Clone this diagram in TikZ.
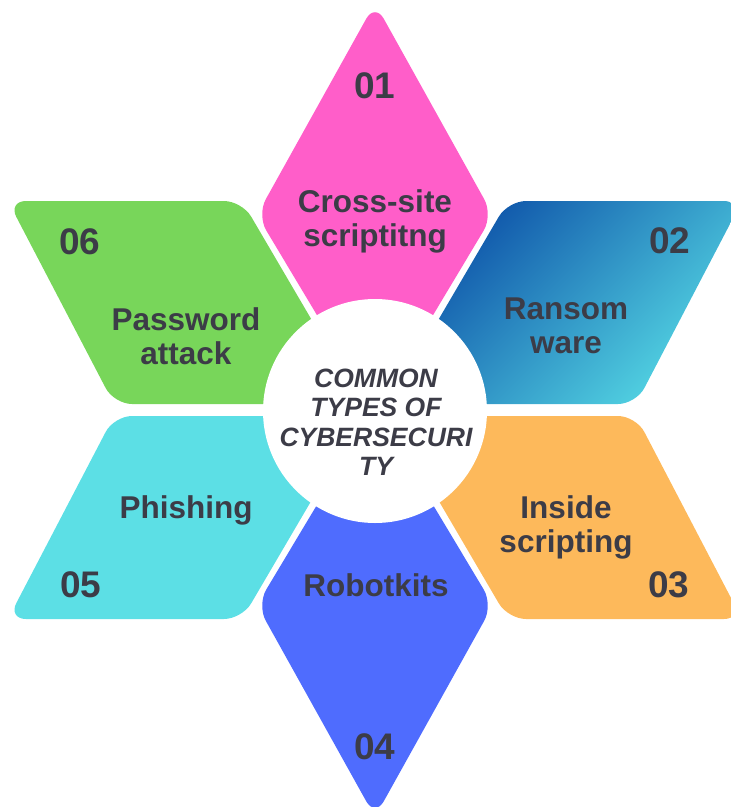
\documentclass[tikz,border=0pt]{standalone}
\usepackage{fontspec}
\setmainfont{Liberation Sans}

\definecolor{pinkP}{HTML}{FF5EC9}
\definecolor{navyP}{HTML}{0B4DA6}
\definecolor{aquaP}{HTML}{55D8E4}
\definecolor{orangeP}{HTML}{FDB95B}
\definecolor{violetP}{HTML}{4F6CFE}
\definecolor{cyanP}{HTML}{5CDFE5}
\definecolor{greenP}{HTML}{78D65A}
\definecolor{inkP}{HTML}{3C3C47}

\begin{document}
\begin{tikzpicture}[x=1pt,y=-1pt,
  petal/.style={rounded corners=18pt},
  num/.style={text=inkP,font=\bfseries\fontsize{37}{40}\selectfont},
  lbl/.style={text=inkP,align=center,font=\bfseries\fontsize{31.5}{34}\selectfont}]

\useasboundingbox (0,0) rectangle (731,807);

% petals
\fill[petal,pinkP] (375,3)--(493,215)--(375,412)--(257,215)--cycle;
\shade[petal,top color=navyP,bottom color=aquaP,shading angle=45] (508,201)--(742,201)--(636,404)--(389,404)--cycle;
\fill[petal,orangeP] (389,416)--(636,416)--(742,619)--(508,619)--cycle;
\fill[petal,violetP] (375,408)--(493,605)--(375,817)--(257,605)--cycle;
\fill[petal,cyanP] (114,416)--(361,416)--(242,619)--(8,619)--cycle;
\fill[petal,greenP] (8,201)--(242,201)--(361,404)--(114,404)--cycle;

% hub
\node (hub) [circle,fill=white,minimum size=224pt,inner sep=0pt] at (375,411) {};
\node (title) [text=inkP,align=center,font=\bfseries\itshape\fontsize{26.5}{29.5}\selectfont] at (376,422) {COMMON\\TYPES OF\\CYBERSECURI\\TY};

\node (n01) [num] at (375,86) {01};
\node (l01) [lbl] at (375,221) {Cross-site\\scriptitng};
\node (n02) [num] at (670,241) {02};
\node (l02) [lbl] at (566,326) {Ransom\\ware};
\node (n03) [num] at (669,585) {03};
\node (l03) [lbl] at (566,527) {Inside\\scripting};
\node (n04) [num] at (375,747) {04};
\node (l04) [lbl] at (376,585) {Robotkits};
\node (n05) [num] at (81,585) {05};
\node (l05) [lbl] at (186,510) {Phishing};
\node (n06) [num] at (80,242) {06};
\node (l06) [lbl] at (186,336) {Password\\attack};

\end{tikzpicture}
\end{document}
